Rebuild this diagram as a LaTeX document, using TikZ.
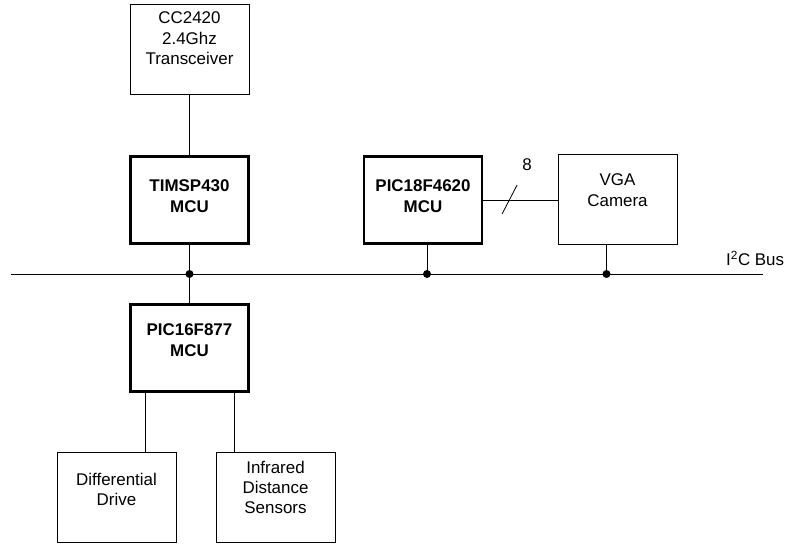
\documentclass[tikz,border=0pt]{standalone}
\usepackage{fontspec}
\setmainfont{Liberation Sans}
\usetikzlibrary{calc}
\tikzset{
    thinbox/.style={draw, line width=0.8bp, minimum width=119bp, minimum height=90bp, inner sep=0pt},
    thickbox/.style={draw, line width=2.8bp, minimum width=118bp, minimum height=87bp, inner sep=0pt},
    txt/.style={align=center, font=\fontsize{17}{20.5}\selectfont, label distance=0pt},
    wire/.style={line width=0.8bp},
    junction/.style={circle, fill, inner sep=0pt, minimum size=8bp}
}

\begin{document}
\begin{tikzpicture}[x=1bp, y=-1bp]

    \useasboundingbox (0,0) rectangle (786,544);

    \draw (189.5,49.5) node[thinbox, label={[txt, yshift=11bp]center:CC2420\\2.4Ghz\\Transceiver}](cc){};
    \draw (189.5,200) node[thickbox, label={[txt, font=\fontsize{17}{20.5}\selectfont\bfseries, yshift=4bp]center:TIMSP430\\MCU}](tims){};
    \draw (423,200) node[thickbox, label={[txt, font=\fontsize{17}{20.5}\selectfont\bfseries, yshift=4bp]center:PIC18F4620\\MCU}](pic18){};
    \draw (617.5,199) node[thinbox, label={[txt, yshift=9bp]center:VGA\\Camera}](vga){};
    \draw (189.5,348) node[thickbox, label={[txt, font=\fontsize{17}{20.5}\selectfont\bfseries, yshift=8bp]center:PIC16F877\\MCU}](pic16){};
    \draw (116.5,497.5) node[thinbox, label={[txt, yshift=8bp]center:Differential\\Drive}](diff){};
    \draw (275.5,497.5) node[thinbox, label={[txt, yshift=10bp]center:Infrared\\Distance\\Sensors}](ir){};

    \coordinate (busL) at (11,274);
    \coordinate (busR) at (763,274);
    \draw [wire](busL) -- (busR);
    \draw (busR) ++(-37,-8) node[anchor=base west, font=\fontsize{17}{20.5}\selectfont, inner sep=0pt](buslbl){I\textsuperscript{2}C Bus};

    \draw [wire](cc.south) -- (tims.north);
    \draw [wire](tims.south) -- (pic16.north);
    \draw ($(tims.south)!(busL)!(pic16.north)$) node[junction](j1){};

    \coordinate (p18out) at ($(pic18.south)+(4,0)$);
    \draw [wire](p18out) -- (p18out |- busL) node[junction](j2){};
    \coordinate (vgaout) at ($(vga.south)+(-11,0)$);
    \draw [wire](vgaout) -- (vgaout |- busL) node[junction](j3){};

    \draw [wire](pic18.east) -- (pic18.east -| vga.west);
    \coordinate (slash) at ($(pic18.east)!0.353!(pic18.east -| vga.west)$);
    \draw [wire]($(slash)+(-7.5,14)$) -- ($(slash)+(7.5,-15)$);
    \draw ($(slash)+(17.5,-35)$) node[font=\fontsize{17}{20.5}\selectfont](bits){8};

    \draw [wire]([xshift=-44.5bp]pic16.south) -- ([xshift=-44.5bp]pic16.south |- diff.north);
    \draw [wire]([xshift=44.5bp]pic16.south) -- ([xshift=44.5bp]pic16.south |- ir.north);

\end{tikzpicture}
\end{document}
